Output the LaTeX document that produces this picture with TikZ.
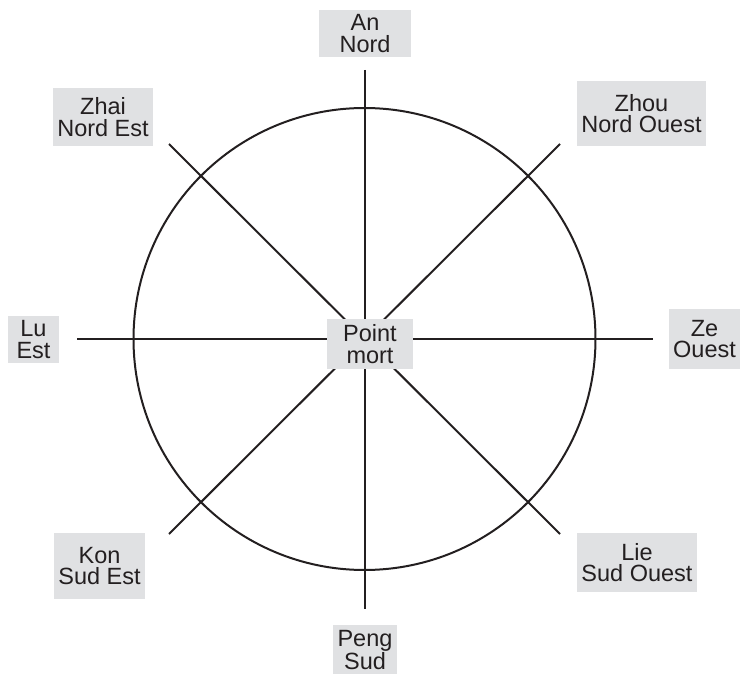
\documentclass[tikz,border=0pt]{standalone}
\usepackage{fontspec}
\setmainfont{Liberation Sans}
\usetikzlibrary{positioning}
\definecolor{dirgray}{HTML}{E0E1E3}
\definecolor{dirink}{HTML}{231F20}
\tikzset{
  dir/.style={fill=dirgray, text=dirink, align=center, inner sep=0pt, font=\fontsize{23.5}{21.5}\selectfont},
  spoke/.style={draw=dirink, line width=2pt},
}
\begin{document}
\begin{tikzpicture}[x=1pt, y=-1pt]
  \useasboundingbox (0,0) rectangle (740,674);
  \coordinate (c) at (364.5,339);
  % free ends of the spokes
  \coordinate (eN) at (365,70);
  \coordinate (eS) at (365,609);
  \coordinate (eE) at (77,339);
  \coordinate (eW) at (653,339);
  \coordinate (eNE) at (169,144);
  \coordinate (eSW) at (169,534);
  \coordinate (eNW) at (560,144);
  \coordinate (eSO) at (560,534);
  \draw[spoke] (c) circle[radius=231pt];
  \draw[spoke] (eN) -- (eS);
  \draw[spoke] (eE) -- (eW);
  \draw[spoke] (eNE) -- (eSO);
  \draw[spoke] (eNW) -- (eSW);
  \foreach \n/\x/\y/\w/\h/\t in {
      an/365/33.5/92/47/{An\\Nord},
      zhai/103/117/100/58/{Zhai\\Nord Est},
      zhou/641.5/113.5/129/65/{Zhou\\Nord Ouest},
      lu/33.5/339.5/51/47/{Lu\\Est},
      ze/704.5/339/71/60/{Ze\\Ouest},
      pm/370/344/86/50/{Point\\mort},
      kon/99.5/566/91/66/{Kon\\Sud Est},
      lie/637/562.5/120/59/{Lie\\Sud Ouest},
      peng/365/650/64/50/{Peng\\Sud}} {
    \node[dir, minimum width=\w, minimum height=\h] (\n) at (\x,\y) {\t};
  }
\end{tikzpicture}
\end{document}
